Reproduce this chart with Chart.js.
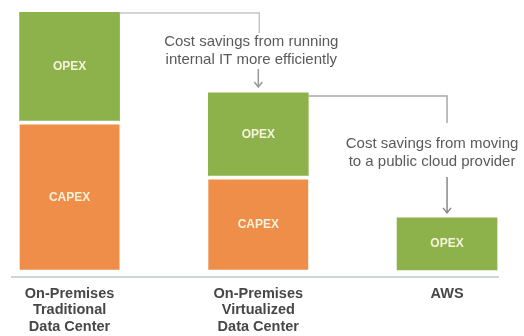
<!DOCTYPE html>
<html>
<head>
<meta charset="utf-8">
<script src="https://cdn.jsdelivr.net/npm/chart.js@4.4.1/dist/chart.umd.min.js"></script>
<style>
  html, body { margin: 0; padding: 0; background: #fff; }
  #wrap { width: 524px; height: 336px; }
</style>
</head>
<body>
<div id="wrap"><canvas id="grafico"></canvas></div>
<script>
// Datos (unidades relativas)
const categorias = [
    ['On-Premises', 'Traditional', 'Data Center'],
    ['On-Premises', 'Virtualized', 'Data Center'],
    ['AWS']
];
const capex = [149, 94, null];
const opex = [109, 83, 52];
const etiquetasSerie = ['CAPEX', 'OPEX'];
const notas = [
    ['Cost savings from running', 'internal IT more efficiently'],
    ['Cost savings from moving', 'to a public cloud provider']
];

const VERDE = '#8db24c';
const NARANJA = '#ee8e49';

// Etiquetas blancas dentro de cada bloque
const etiquetasBarras = {
    id: 'etiquetasBarras',
    afterDatasetsDraw(chart) {
        const ctx = chart.ctx;
        ctx.save();
        ctx.font = 'bold 12px "Liberation Sans", Arial, sans-serif';
        ctx.fillStyle = '#f6f3dc';
        ctx.textAlign = 'center';
        ctx.textBaseline = 'middle';
        chart.data.datasets.forEach((ds, i) => {
            chart.getDatasetMeta(i).data.forEach((bar, j) => {
                if (ds.data[j].y == null) return;
                const top = bar.y + (i === 0 ? 4 : 0);
                ctx.fillText(ds.label, bar.x, (top + bar.base) / 2);
            });
        });
        ctx.restore();
    }
};

function flecha(ctx, x, y1, y2) {
    ctx.beginPath();
    ctx.moveTo(x, y1);
    ctx.lineTo(x, y2);
    ctx.moveTo(x - 4, y2 - 5);
    ctx.lineTo(x, y2);
    ctx.lineTo(x + 4, y2 - 5);
    ctx.stroke();
}

// Conectores y textos de ahorro
const notasAhorro = {
    id: 'notasAhorro',
    afterDatasetsDraw(chart) {
        const ctx = chart.ctx;
        const barras = chart.getDatasetMeta(1).data;
        const [b0, b1, b2] = barras;
        ctx.save();
        ctx.lineWidth = 1.5;

        // Primera nota
        ctx.strokeStyle = '#c6c6c6';
        ctx.beginPath();
        ctx.moveTo(b0.x + b0.width / 2, b0.y + 1);
        ctx.lineTo(b1.x + 1, b0.y + 1);
        ctx.lineTo(b1.x + 1, b0.y + 21);
        ctx.stroke();
        ctx.strokeStyle = '#999';
        flecha(ctx, b1.x, b0.y + 57, b1.y - 6);

        // Segunda nota
        ctx.strokeStyle = '#a8a8a8';
        ctx.beginPath();
        ctx.moveTo(b1.x + b1.width / 2, b1.y + 3);
        ctx.lineTo(b2.x, b1.y + 3);
        ctx.lineTo(b2.x, b1.y + 30);
        ctx.stroke();
        ctx.strokeStyle = '#888';
        flecha(ctx, b2.x, b2.y - 41, b2.y - 5);

        ctx.font = '15px "Liberation Sans", Arial, sans-serif';
        ctx.fillStyle = '#5a5a5a';
        ctx.textAlign = 'center';
        ctx.textBaseline = 'middle';
        notas[0].forEach((t, k) => ctx.fillText(t, b1.x - 7, b0.y + 30 + k * 18));
        notas[1].forEach((t, k) => ctx.fillText(t, b2.x - 15, b1.y + 51 + k * 18));
        ctx.restore();
    }
};

const ctx = document.getElementById('grafico').getContext('2d');
new Chart(ctx, {
    type: 'bar',
    data: {
        datasets: [
            {
                label: etiquetasSerie[0],
                data: capex.map((v, i) => ({ x: i, y: v })),
                backgroundColor: NARANJA,
                borderColor: '#ffffff',
                borderWidth: { top: 4, right: 0, bottom: 0, left: 0 },
                borderSkipped: false,
                barThickness: 100,
                stack: 'costo'
            },
            {
                label: etiquetasSerie[1],
                data: opex.map((v, i) => ({ x: i, y: v })),
                backgroundColor: VERDE,
                borderWidth: 0,
                barThickness: 100,
                stack: 'costo'
            }
        ]
    },
    options: {
        responsive: true,
        maintainAspectRatio: false,
        animation: false,
        layout: { padding: { top: 12, left: 12, right: 26, bottom: -8 } },
        plugins: {
            legend: { display: false },
            tooltip: { enabled: false }
        },
        scales: {
            x: {
                type: 'linear',
                offset: false,
                min: -0.305,
                max: 2.27,
                afterBuildTicks: axis => {
                    axis.ticks = categorias.map((_, i) => ({ value: i }));
                },
                grid: { display: false, drawTicks: false, offset: false },
                border: { display: true, color: '#cdd5dd', width: 2 },
                ticks: {
                    autoSkip: false,
                    maxRotation: 0,
                    padding: 9,
                    color: '#474747',
                    font: { family: '"Liberation Sans", Arial, sans-serif', size: 14.5, weight: 'bold', lineHeight: 1.13 },
                    callback: v => categorias[v]
                }
            },
            y: {
                display: false,
                stacked: true,
                min: -7,
                max: 258
            }
        }
    },
    plugins: [etiquetasBarras, notasAhorro]
});
</script>
</body>
</html>
